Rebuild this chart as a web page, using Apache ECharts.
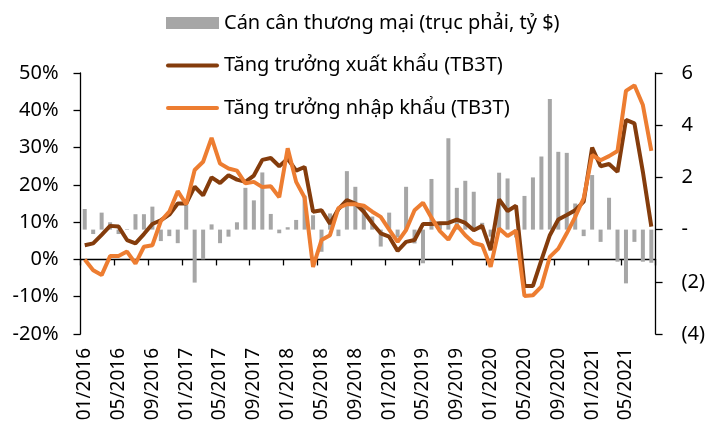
<!DOCTYPE html>
<html>
<head>
<meta charset="utf-8">
<script src="https://cdn.jsdelivr.net/npm/echarts@6/dist/echarts.min.js"></script>
<style>
  html, body { margin: 0; padding: 0; background: #fff; }
  #chart { width: 708px; height: 425px; }
</style>
</head>
<body>
<div id="chart"></div>
<script>
// Monthly categories, 01/2016 – 08/2021
const months = [
  '01/2016','02/2016','03/2016','04/2016','05/2016','06/2016','07/2016','08/2016','09/2016','10/2016','11/2016','12/2016',
  '01/2017','02/2017','03/2017','04/2017','05/2017','06/2017','07/2017','08/2017','09/2017','10/2017','11/2017','12/2017',
  '01/2018','02/2018','03/2018','04/2018','05/2018','06/2018','07/2018','08/2018','09/2018','10/2018','11/2018','12/2018',
  '01/2019','02/2019','03/2019','04/2019','05/2019','06/2019','07/2019','08/2019','09/2019','10/2019','11/2019','12/2019',
  '01/2020','02/2020','03/2020','04/2020','05/2020','06/2020','07/2020','08/2020','09/2020','10/2020','11/2020','12/2020',
  '01/2021','02/2021','03/2021','04/2021','05/2021','06/2021','07/2021','08/2021'
];

// Trade balance, billion USD (right axis)
const tradeBalance = [
  0.79, -0.17, 0.65, 0.28, -0.17, 0.02, 0.59, 0.59, 0.88, -0.44, -0.25, -0.52,
  0.94, -2.03, -1.14, 0.20, -0.52, -0.27, 0.28, 1.60, 1.12, 2.19, 0.60, -0.14,
  0.09, 0.37, 1.30, 0.55, -0.85, 0.62, -0.25, 2.24, 1.64, 0.94, 0.50, -0.65,
  0.65, -0.30, 1.64, -0.53, -1.29, 1.94, 0.20, 3.50, 1.60, 1.87, 1.45, 0.26,
  -0.27, 2.18, 1.96, -0.30, 1.29, 2.00, 2.80, 5.00, 2.98, 2.94, 1.00, -0.25,
  2.09, -0.47, 1.22, -1.23, -2.06, -0.47, -1.23, -1.27
];

// Export growth, 3-month average, % (left axis)
const exportGrowth = [
  3.8, 4.3, 6.6, 9.0, 8.8, 5.2, 4.3, 6.8, 9.5, 10.5, 12.0, 15.0,
  15.0, 19.5, 17.2, 22.0, 20.5, 22.6, 21.4, 20.8, 22.5, 26.7, 27.2, 25.0,
  27.0, 23.8, 24.8, 12.8, 13.2, 9.6, 13.5, 15.9, 15.0, 12.8, 9.7, 7.0,
  6.1, 2.3, 4.7, 5.2, 9.5, 9.5, 9.7, 9.8, 10.7, 9.8, 7.8, 9.0,
  2.5, 16.1, 13.0, 14.4, -7.1, -7.1, -0.2, 6.5, 10.7, 11.9, 13.2, 15.5,
  30.0, 25.0, 25.6, 23.5, 37.4, 36.5, 23.5, 8.8
];

// Import growth, 3-month average, % (left axis)
const importGrowth = [
  0.0, -2.9, -4.2, 0.9, 0.9, 2.1, -1.1, 3.4, 3.8, 10.3, 12.8, 18.3,
  14.8, 24.0, 26.2, 32.6, 25.7, 24.4, 23.8, 20.4, 20.8, 19.4, 19.6, 16.7,
  29.8, 20.8, 16.6, -2.0, 5.2, 6.5, 13.8, 14.8, 14.8, 14.4, 12.8, 11.4,
  8.0, 4.7, 7.9, 13.2, 15.2, 11.2, 7.6, 5.3, 9.2, 6.5, 4.4, 3.8,
  -2.0, 8.3, 6.3, 7.7, -9.8, -9.6, -7.3, 0.7, 2.9, 7.0, 11.4, 16.4,
  28.0, 26.6, 27.7, 29.1, 45.2, 46.7, 41.4, 29.1
];

const seriesNames = [
  'Cán cân thương mại (trục phải, tỷ $)',
  'Tăng trưởng xuất khẩu (TB3T)',
  'Tăng trưởng nhập khẩu (TB3T)'
];

const FONT = '"Noto Sans", "Open Sans", sans-serif';
const axisColor = '#000';
const axisLineStyle = { color: axisColor, width: 1.3 };
// plain stroke-shaped legend key for the two line series
const lineKey = 'path://M2,0H51A2,2,0,0,1,51,4H2A2,2,0,0,1,2,0Z';

const chart = echarts.init(document.getElementById('chart'), null, { renderer: 'canvas' });

chart.setOption({
  animation: false,
  backgroundColor: '#fff',
  textStyle: { fontFamily: FONT, color: '#000' },
  grid: { left: 80.5, right: 51, top: 73, bottom: 91, containLabel: false },
  legend: {
    orient: 'vertical',
    left: 166,
    top: 13,
    padding: 0,
    itemGap: 22.5,
    itemWidth: 53,
    itemHeight: 12,
    symbolKeepAspect: true,
    textStyle: { fontFamily: FONT, fontSize: 20, color: '#000', lineHeight: 20 },
    data: [
      { name: seriesNames[0], icon: 'rect' },
      { name: seriesNames[1], icon: lineKey },
      { name: seriesNames[2], icon: lineKey }
    ]
  },
  xAxis: [
    {
      // axis line through 0% with tick marks every 4 months
      type: 'category',
      data: months,
      boundaryGap: true,
      position: 'bottom',
      axisLine: { show: true, onZero: true, onZeroAxisIndex: 0, lineStyle: axisLineStyle },
      axisTick: { show: true, interval: 3, length: 6, lineStyle: axisLineStyle },
      axisLabel: { show: false },
      splitLine: { show: false }
    },
    {
      // month labels along the bottom of the plot
      type: 'category',
      data: months,
      boundaryGap: true,
      position: 'bottom',
      axisLine: { show: false, onZero: false },
      axisTick: { show: false },
      splitLine: { show: false },
      axisLabel: {
        interval: 3,
        rotate: 90,
        margin: 14,
        fontSize: 19,
        fontFamily: FONT,
        color: '#000'
      }
    }
  ],
  yAxis: [
    {
      type: 'value',
      position: 'left',
      min: -20,
      max: 50,
      interval: 10,
      axisLine: { show: true, lineStyle: axisLineStyle },
      axisTick: { show: true, length: 7, lineStyle: axisLineStyle },
      splitLine: { show: false },
      axisLabel: { formatter: '{value}%', margin: 22, fontSize: 20, fontFamily: FONT, color: '#000' }
    },
    {
      type: 'value',
      position: 'right',
      min: -4,
      max: 6,
      interval: 2,
      axisLine: { show: true, lineStyle: axisLineStyle },
      axisTick: { show: true, length: 7, lineStyle: axisLineStyle },
      splitLine: { show: false },
      axisLabel: {
        margin: 26,
        fontSize: 20,
        fontFamily: FONT,
        color: '#000',
        formatter: function (v) {
          if (v === 0) return '-';
          if (v < 0) return '(' + (-v) + ')';
          return String(v);
        }
      }
    }
  ],
  series: [
    {
      name: seriesNames[0],
      type: 'bar',
      xAxisIndex: 0,
      yAxisIndex: 1,
      data: tradeBalance,
      barWidth: 4,
      itemStyle: { color: '#A6A6A6' },
      z: 1
    },
    {
      name: seriesNames[1],
      type: 'line',
      xAxisIndex: 0,
      yAxisIndex: 0,
      data: exportGrowth,
      symbol: 'none',
      lineStyle: { color: '#843C0C', width: 4 },
      itemStyle: { color: '#843C0C' },
      z: 3
    },
    {
      name: seriesNames[2],
      type: 'line',
      xAxisIndex: 0,
      yAxisIndex: 0,
      data: importGrowth,
      symbol: 'none',
      lineStyle: { color: '#ED7D31', width: 4 },
      itemStyle: { color: '#ED7D31' },
      z: 4
    }
  ]
});
</script>
</body>
</html>
